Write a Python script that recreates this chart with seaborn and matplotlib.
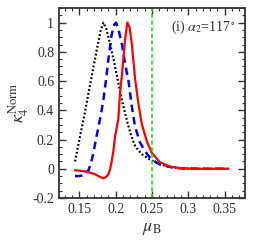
import matplotlib
matplotlib.use("Agg")
import matplotlib.pyplot as plt
import seaborn as sns
import pandas as pd
from matplotlib.ticker import MultipleLocator

# ---- data ----
black_x = [0.144, 0.150, 0.155, 0.160, 0.165, 0.170, 0.175, 0.179, 0.183, 0.187,
           0.192, 0.197, 0.202, 0.206, 0.2095, 0.213, 0.2165, 0.220, 0.2235, 0.227,
           0.2315, 0.236, 0.247, 0.261, 0.275, 0.289, 0.302, 0.316, 0.337, 0.355]
black_y = [0.05, 0.20, 0.32, 0.45, 0.58, 0.71, 0.84, 0.94, 1.00, 0.96,
           0.86, 0.75, 0.63, 0.53, 0.45, 0.38, 0.31, 0.25, 0.195, 0.155,
           0.125, 0.10, 0.063, 0.03, 0.012, 0.004, 0.001, 0.0, 0.0, 0.0]

blue_x = [0.144, 0.150, 0.155, 0.160, 0.163, 0.166, 0.169, 0.172, 0.176, 0.180,
          0.183, 0.187, 0.190, 0.1945, 0.198, 0.2005, 0.203, 0.2083, 0.212, 0.2152,
          0.2174, 0.2221, 0.2266, 0.2335, 0.2404, 0.2472, 0.2541, 0.261, 0.275,
          0.289, 0.302, 0.316, 0.337, 0.355]
blue_y = [-0.05, -0.05, -0.045, -0.025, -0.005, 0.04, 0.10, 0.18, 0.28, 0.38,
          0.47, 0.62, 0.75, 0.92, 0.985, 1.0, 0.97, 0.86, 0.75, 0.66,
          0.61, 0.43, 0.29, 0.18, 0.12, 0.076, 0.05, 0.03, 0.012,
          0.004, 0.001, 0.0, 0.0, 0.0]

red_x = [0.144, 0.150, 0.160, 0.1715, 0.178, 0.183, 0.187, 0.190, 0.1925, 0.1945,
         0.1965, 0.1991, 0.2036, 0.206, 0.2083, 0.2105, 0.2128, 0.216, 0.219, 0.2221,
         0.2266, 0.2311, 0.2358, 0.2427, 0.2496, 0.2565, 0.261, 0.275, 0.289, 0.302,
         0.316, 0.337, 0.355]
red_y = [-0.01, -0.013, -0.019, -0.037, -0.055, -0.065, -0.055, -0.037, 0.0, 0.053,
         0.11, 0.22, 0.34, 0.52, 0.63, 0.75, 0.88, 1.0, 0.97, 0.86,
         0.62, 0.45, 0.31, 0.19, 0.11, 0.07, 0.045, 0.015, 0.004, 0.001,
         0.0, 0.0, 0.0]

vline_x = 0.25
x_ticks = [0.15, 0.2, 0.25, 0.3, 0.35]
x_tick_labels = ["0.15", "0.2", "0.25", "0.3", "0.35"]
y_ticks = [-0.2, 0, 0.2, 0.4, 0.6, 0.8, 1]
y_tick_labels = ["-0.2", "0", "0.2", "0.4", "0.6", "0.8", "1"]
annotation = r"(i) $\alpha_2$=117$^\circ$"
x_label = r"$\mu_{\rm B}$"
y_label = r"$\kappa_4^{\rm Norm}$"

# ---- style ----
sns.set_theme(style="ticks")
plt.rcParams["font.family"] = ["Liberation Serif", "DejaVu Serif"]
plt.rcParams["mathtext.fontset"] = "stix"

fig = plt.figure(figsize=(2.58, 2.45), dpi=100)
ax = fig.add_axes([0.2287, 0.1918, 0.7209, 0.7755])

df_black = pd.DataFrame({"x": black_x, "y": black_y})
df_blue = pd.DataFrame({"x": blue_x, "y": blue_y})
df_red = pd.DataFrame({"x": red_x, "y": red_y})

sns.lineplot(data=df_black, x="x", y="y", ax=ax, color="black", lw=1.6,
             linestyle=(0, (0.8, 1.0)), sort=False, estimator=None)
sns.lineplot(data=df_blue, x="x", y="y", ax=ax, color="#0000ff", lw=1.8,
             linestyle=(0, (3.0, 2.0)), sort=False, estimator=None)
sns.lineplot(data=df_red, x="x", y="y", ax=ax, color="#ff0000", lw=1.6,
             linestyle="-", sort=False, estimator=None)
ax.axvline(vline_x, color="#22dd22", lw=1.2, linestyle=(0, (2.5, 1.5)))

ax.set_xlim(0.122, 0.378)
ax.set_ylim(-0.2, 1.1)
ax.set_xticks(x_ticks)
ax.set_xticklabels(x_tick_labels)
ax.set_yticks(y_ticks)
ax.set_yticklabels(y_tick_labels)
ax.xaxis.set_minor_locator(MultipleLocator(0.01))
ax.yaxis.set_minor_locator(MultipleLocator(0.05))
ax.tick_params(which="both", direction="in", top=True, right=True,
               colors="#333333", labelcolor="#333333", labelsize=10)
ax.tick_params(which="major", length=5, width=1.0)
ax.tick_params(which="minor", length=2.5, width=0.8)
for s in ax.spines.values():
    s.set_linewidth(1.3)
    s.set_color("#333333")

ax.set_xlabel(x_label, fontsize=13, color="#333333", labelpad=3)
ax.set_ylabel(y_label, fontsize=13, color="#333333", labelpad=1)
ax.text(0.95, 0.9, annotation, transform=ax.transAxes, ha="right", va="center",
        fontsize=10, color="#333333")

fig.savefig("out.png", dpi=100)
